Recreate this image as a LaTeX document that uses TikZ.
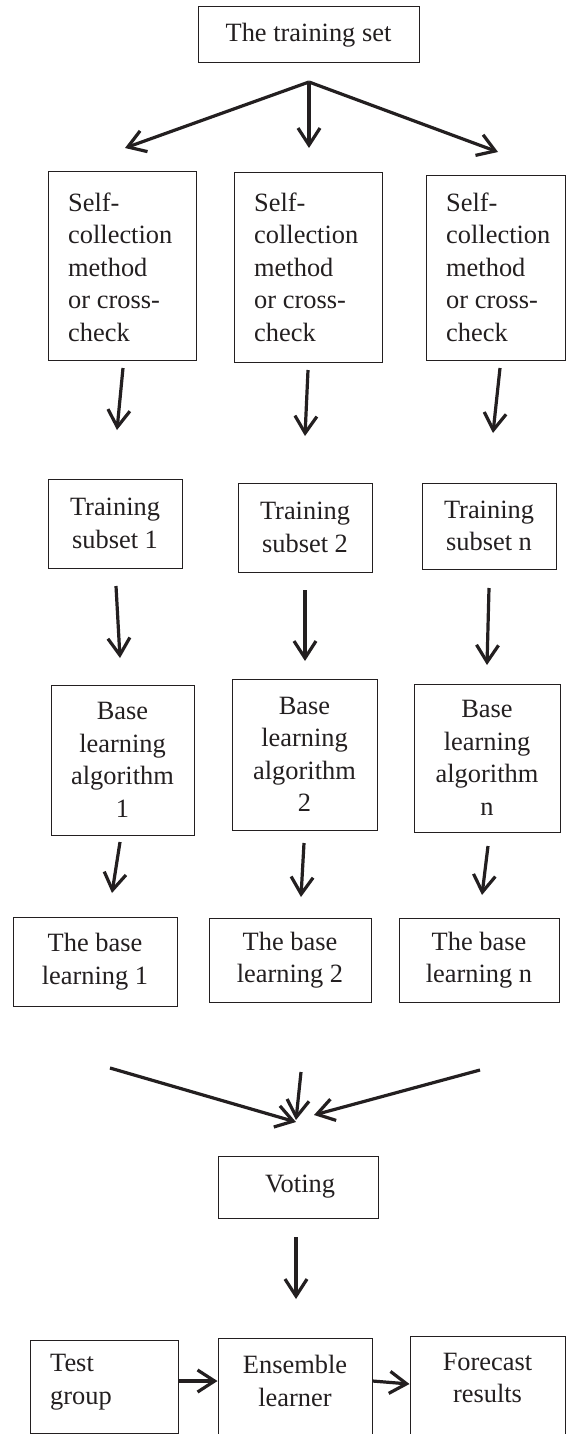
\documentclass[tikz,border=0pt]{standalone}
\usepackage{fontspec}
\setmainfont{Liberation Serif}
\usetikzlibrary{arrows.meta,calc}
\definecolor{ink}{HTML}{231F20}
\begin{document}
\begin{tikzpicture}[x=1pt,y=-1pt,
  box/.style={draw=ink,line width=1pt,rectangle,inner sep=0pt,text=ink,
    font=\fontsize{26.4}{32.5}\selectfont},
  lbox/.style={box,align=left},
  cbox/.style={box,align=center},
  txt/.style={inner sep=0pt,text=ink,font=\fontsize{26.4}{32.5}\selectfont},
  ltxt/.style={txt,align=left,anchor=west},
  ctxt/.style={txt,align=center},
  arr/.style={draw=ink,line width=3.2pt,-{Straight Barb[length=17pt,width=22pt,line width=3.2pt]}}]
\useasboundingbox (0,0) rectangle (566,1434);
\fill[white] (0,0) rectangle (566,1434);
% top
\node[cbox,minimum width=221pt,minimum height=56pt] (top) at (308.5,35) {The training set};
% self-collection boxes
\node[box,minimum width=148pt,minimum height=188pt] (s1) at (122,266) {};
\node[box,minimum width=148pt,minimum height=189pt] (s2) at (308,267.5) {};
\node[box,minimum width=139pt,minimum height=184pt] (s3) at (495.5,268) {};
\node[ltxt] (s1t) at (68,267) {Self-\\collection\\method\\or cross-\\check};
\node[ltxt] (s2t) at (254,267) {Self-\\collection\\method\\or cross-\\check};
\node[ltxt] (s3t) at (446,267) {Self-\\collection\\method\\or cross-\\check};
% training subsets
\node[cbox,minimum width=134pt,minimum height=89pt] (t1) at (115,523.5) {Training\\subset 1};
\node[cbox,minimum width=134pt,minimum height=89pt] (t2) at (305,527.5) {Training\\subset 2};
\node[cbox,minimum width=134pt,minimum height=86pt] (tn) at (489,526) {Training\\subset n};
% base learning algorithms
\node[cbox,minimum width=143pt,minimum height=150pt] (b1) at (122.5,760) {Base\\learning\\algorithm\\1};
\node[cbox,minimum width=145pt,minimum height=151pt] (b2) at (304.5,754.5) {Base\\learning\\algorithm\\2};
\node[cbox,minimum width=146pt,minimum height=148pt] (b3) at (487,758) {Base\\learning\\algorithm\\n};
% base learners
\node[cbox,minimum width=164pt,minimum height=89pt] (l1) at (95,961.5) {The base\\learning 1};
\node[cbox,minimum width=162pt,minimum height=84pt] (l2) at (290,960) {The base\\learning 2};
\node[cbox,minimum width=160pt,minimum height=84pt] (l3) at (479,960) {The base\\learning n};
% voting
\node[cbox,minimum width=160pt,minimum height=62pt] (vote) at (298,1187) {\hspace*{4pt}Voting};
% bottom row
\node[box,minimum width=148pt,minimum height=93pt] (test) at (104,1386.5) {};
\node[ltxt] (testt) at (50,1382) {Test\\group};
\node[box,minimum width=154pt,minimum height=102pt] (ens) at (295,1389) {};
\node[ctxt] (enst) at (295,1381) {Ensemble\\learner};
\node[box,minimum width=155pt,minimum height=104pt] (fore) at (487.5,1388) {};
\node[ctxt] (foret) at (487.5,1378) {Forecast\\results};
% connector coordinates
\coordinate (fan) at (309,82);
\coordinate (f1) at (125,148);
\coordinate (f2) at (309,148);
\coordinate (f3) at (498,152);
\coordinate (a1s) at (123,368); \coordinate (a1e) at (117,430);
\coordinate (a2s) at (308,370); \coordinate (a2e) at (305,436);
\coordinate (a3s) at (500,368); \coordinate (a3e) at (493,433);
\coordinate (c1s) at (116,586); \coordinate (c1e) at (120,658);
\coordinate (c2s) at (305,590); \coordinate (c2e) at (305,661);
\coordinate (c3s) at (489,588); \coordinate (c3e) at (487,665);
\coordinate (d1s) at (120,842); \coordinate (d1e) at (112,893);
\coordinate (d2s) at (304,843); \coordinate (d2e) at (301,897);
\coordinate (d3s) at (488,846); \coordinate (d3e) at (482,895);
\coordinate (v1s) at (110,1068); \coordinate (v1e) at (296,1122);
\coordinate (v2s) at (301,1072); \coordinate (v2e) at (296,1120);
\coordinate (v3s) at (480,1070); \coordinate (v3e) at (314,1115);
\coordinate (es) at (296,1237); \coordinate (ee) at (296,1299);
% connectors
\draw[arr] (fan) -- (f1);
\draw[arr] (fan) -- (f2);
\draw[arr] (fan) -- (f3);
\draw[arr] (a1s) -- (a1e);
\draw[arr] (a2s) -- (a2e);
\draw[arr] (a3s) -- (a3e);
\draw[arr] (c1s) -- (c1e);
\draw[arr] (c2s) -- (c2e);
\draw[arr] (c3s) -- (c3e);
\draw[arr] (d1s) -- (d1e);
\draw[arr] (d2s) -- (d2e);
\draw[arr] (d3s) -- (d3e);
\draw[arr] (v1s) -- (v1e);
\draw[arr] (v2s) -- (v2e);
\draw[arr] (v3s) -- (v3e);
\draw[arr] (es) -- (ee);
\draw[arr] (test.east |- 0,1381) -- (ens.west |- 0,1381);
\draw[arr] (ens.east |- 0,1381) -- ($(fore.west |- 0,1381)+(0,3)$);
\end{tikzpicture}
\end{document}
